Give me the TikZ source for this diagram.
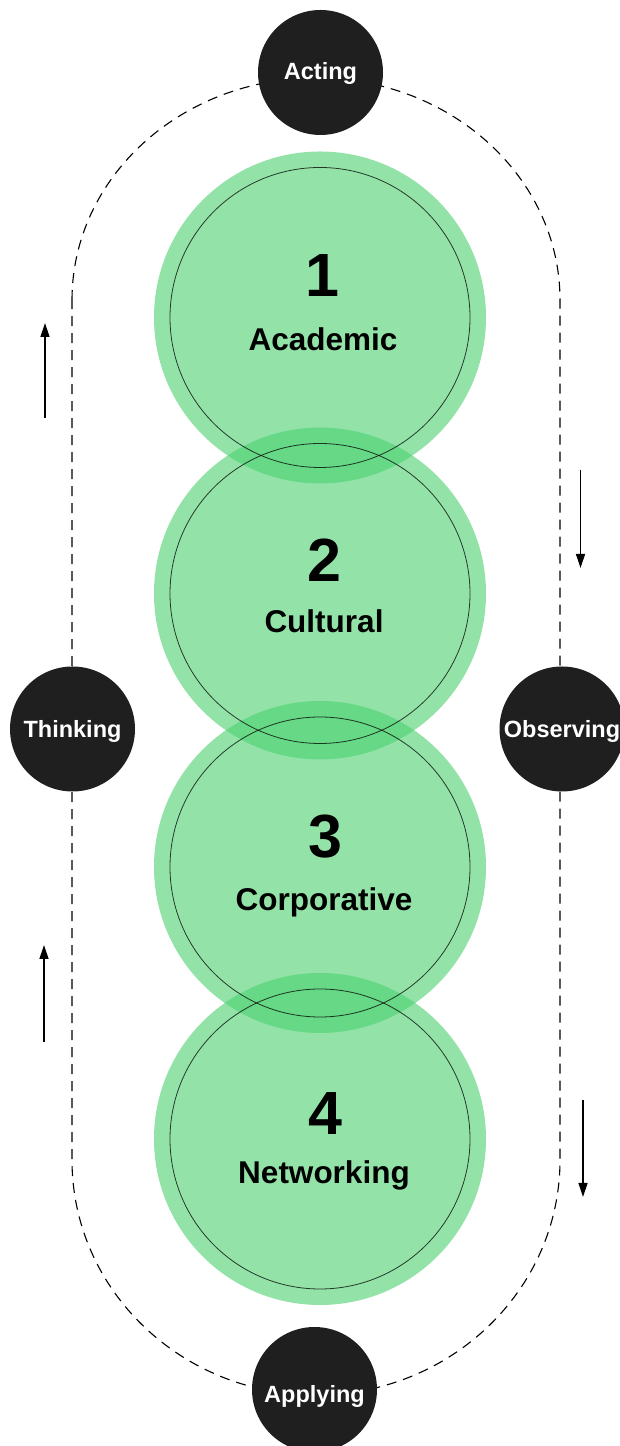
\documentclass[tikz,border=0pt]{standalone}
\usepackage{fontspec}
\setmainfont{Liberation Sans}
\usetikzlibrary{arrows.meta}
\definecolor{ringgreen}{RGB}{72,208,109}
\definecolor{darkdot}{RGB}{31,31,31}
\tikzset{
  greencirc/.style={circle, inner sep=0pt, minimum size=332pt, fill=ringgreen, fill opacity=0.59, draw=none},
  thinring/.style={circle, inner sep=0pt, minimum size=300pt, draw=black, draw opacity=0.75, line width=0.8pt},
  stagecirc/.style={circle, inner sep=0pt, minimum size=125pt, fill=darkdot, text=white, text depth=0pt, text height=16pt, font=\fontsize{23.5}{28}\selectfont\bfseries},
  numtext/.style={anchor=base, inner sep=0pt, font=\fontsize{61}{70}\selectfont\bfseries},
  labtext/.style={anchor=base, inner sep=0pt, font=\fontsize{31.5}{38}\selectfont\bfseries},
  looppath/.style={draw=black, line width=1.1pt, dash pattern=on 10pt off 7pt},
  flowarrow/.style={draw=black, line width=1.3pt, -{Triangle[length=14pt,width=9pt]}}
}
\begin{document}
\begin{tikzpicture}[x=1pt,y=1pt]
\useasboundingbox (0,0) rectangle (619,1446);
% dashed loop
\draw[looppath] (72,1146) arc[start angle=180, end angle=0, x radius=244pt, y radius=222pt]
  -- (560,286) arc[start angle=0, end angle=-180, x radius=244pt, y radius=235pt] -- cycle;
% green circles
\node[greencirc] (g1) at (320,1128.5) {};
\node[greencirc] (g2) at (320,852.5) {};
\node[greencirc] (g3) at (320,579) {};
\node[greencirc] (g4) at (320,307) {};
\node[thinring] (r1) at (320,1128.5) {};
\node[thinring] (r2) at (320,852.5) {};
\node[thinring] (r3) at (320,579) {};
\node[thinring] (r4) at (320,307) {};
% texts
\node[numtext] (n1) at (322,1149) {1};
\node[labtext] (l1) at (323,1095) {Academic};
\node[numtext] (n2) at (324,864) {2};
\node[labtext] (l2) at (324,813) {Cultural};
\node[numtext] (n3) at (325,588) {3};
\node[labtext] (l3) at (324,535) {Corporative};
\node[numtext] (n4) at (325,311) {4};
\node[labtext] (l4) at (324,262) {Networking};
% stage circles
\node[stagecirc, text height=15pt] (acting) at (320.5,1373.5) {Acting};
\node[stagecirc, text height=18pt] (thinking) at (72.5,717) {Thinking};
\node[stagecirc, text height=18pt] (observing) at (562,717) {Observing};
\node[stagecirc, text height=27pt] (applying) at (314.5,56.5) {Applying};
% arrows
\coordinate (a1s) at (45,1028); \coordinate (a1e) at (45,1123);
\coordinate (a2s) at (44,404);  \coordinate (a2e) at (44,501);
\coordinate (a3s) at (580.5,976); \coordinate (a3e) at (580.5,878);
\coordinate (a4s) at (583,346); \coordinate (a4e) at (583,249);
\draw[flowarrow] (a1s) -- (a1e);
\draw[flowarrow] (a2s) -- (a2e);
\draw[flowarrow] (a3s) -- (a3e);
\draw[flowarrow] (a4s) -- (a4e);
\end{tikzpicture}
\end{document}
